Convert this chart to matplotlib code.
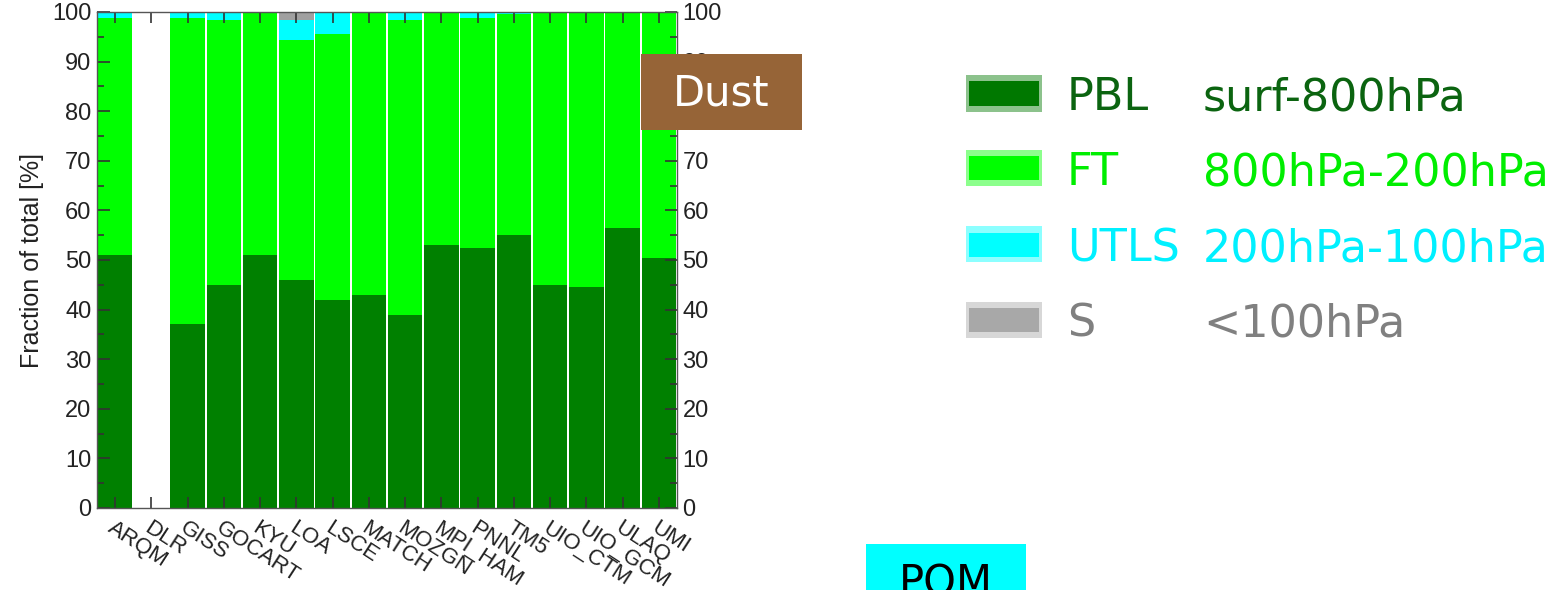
import numpy as np
import matplotlib
matplotlib.use("Agg")
from matplotlib import pyplot as plt
from matplotlib.patches import Rectangle
from matplotlib.ticker import MultipleLocator

# fraction of total dust per vertical layer for each model [%]
models = ["ARQM", "DLR", "GISS", "GOCART", "KYU", "LOA", "LSCE", "MATCH",
          "MOZGN", "MPI_HAM", "PNNL", "TM5", "UIO_CTM", "UIO_GCM", "ULAQ", "UMI"]
pbl = [51, 0, 37, 45, 51, 46, 42, 43, 39, 53, 52.5, 55, 45, 44.5, 56.5, 50.5]
ft = [47.8, 0, 61.8, 53.4, 48.7, 48.3, 53.5, 57, 59.4, 47, 46.3, 44.5, 55, 55.5, 43.5, 49.5]
utls = [1.2, 0, 1.2, 1.6, 0.3, 4.1, 4.5, 0, 1.6, 0, 1.2, 0.5, 0, 0, 0, 0]
strat = [0, 0, 0, 0, 0, 1.6, 0, 0, 0, 0, 0, 0, 0, 0, 0, 0]

layers = ["PBL", "FT", "UTLS", "S"]
ranges = ["surf-800hPa", "800hPa-200hPa", "200hPa-100hPa", "<100hPa"]
bar_cols = ["#008000", "#00ff00", "#00ffff", "#a0a0a0"]
patch_cols = ["#007800", "#00ff00", "#00ffff", "#a8a8a8"]
text_cols = ["#0b6410", "#00ee00", "#00f0ff", "#808080"]

W, H = 1561, 590
fig = plt.figure(figsize=(W / 100, H / 100), dpi=100)

def fx(x):
    return x / W

def fy(y):
    return 1 - y / H

ax = fig.add_axes([fx(97), fy(508), fx(677) - fx(97), fy(12) - fy(508)])

x = np.arange(len(models))
bottom = np.zeros(len(models))
for vals, col in zip([pbl, ft, utls, strat], bar_cols):
    vals = np.array(vals, dtype=float)
    ax.bar(x, vals, width=0.95, bottom=bottom, color=col, linewidth=0, zorder=1)
    bottom += vals

ax.set_xlim(-0.5, len(models) - 0.5)
ax.set_ylim(0, 100)
ax.yaxis.set_major_locator(MultipleLocator(10))
ax.yaxis.set_minor_locator(MultipleLocator(5))
ax.tick_params(axis="y", which="both", direction="in", left=True, right=True,
               labelleft=True, labelright=True, colors="#333333", width=1.2, pad=4)
ax.tick_params(axis="y", which="major", length=9)
ax.tick_params(axis="y", which="minor", length=5)
ax.tick_params(axis="x", direction="in", top=True, bottom=True, length=8,
               width=1.2, colors="#333333", pad=7)
ax.set_xticks(x)
ax.set_xticklabels(models, rotation=-33, ha="left", va="top", rotation_mode="anchor")
for lab in ax.get_xticklabels():
    lab.set_fontfamily("Liberation Sans")
    lab.set_fontsize(16)
    lab.set_color("#222222")
for t in ax.yaxis.get_major_ticks():
    for lab in (t.label1, t.label2):
        lab.set_fontfamily("Liberation Sans")
        lab.set_fontsize(17)
        lab.set_color("#222222")
for sp in ax.spines.values():
    sp.set_color("#555555")
    sp.set_linewidth(1.0)
ax.set_ylabel("Fraction of total [%]", fontfamily="Liberation Sans", fontsize=18,
              color="#222222", labelpad=6)

# legend drawn by hand on the right
rows_y = [93.5, 168, 244.5, 319.5]
for lay, rng, pc, tc, yc in zip(layers, ranges, patch_cols, text_cols, rows_y):
    fig.patches.append(Rectangle((fx(966), fy(yc + 18)), fx(76), 36 / H,
                                 transform=fig.transFigure, color=pc, alpha=0.45, lw=0))
    fig.patches.append(Rectangle((fx(969), fy(yc + 12)), fx(70), 24 / H,
                                 transform=fig.transFigure, color=pc, lw=0))
    fig.text(fx(1067), fy(yc + 17), lay, color=tc, fontsize=32,
             family="DejaVu Sans", va="baseline", ha="left")
    fig.text(fx(1203), fy(yc + 17), rng, color=tc, fontsize=32,
             family="DejaVu Sans", va="baseline", ha="left")

# species labels
fig.patches.append(Rectangle((fx(641), fy(130)), fx(161), 76 / H,
                             transform=fig.transFigure, color="#966437", lw=0, zorder=5))
fig.text(fx(721), fy(93), "Dust", color="white", fontsize=30, family="DejaVu Sans",
         ha="center", va="center", zorder=6)
fig.patches.append(Rectangle((fx(866), fy(600)), fx(160), 56 / H,
                             transform=fig.transFigure, color="#00ffff", lw=0, zorder=5))
fig.text(fx(946), fy(563), "POM", color="black", fontsize=30, family="DejaVu Sans",
         ha="center", va="top", zorder=6)

fig.savefig("out.png", dpi=100)
